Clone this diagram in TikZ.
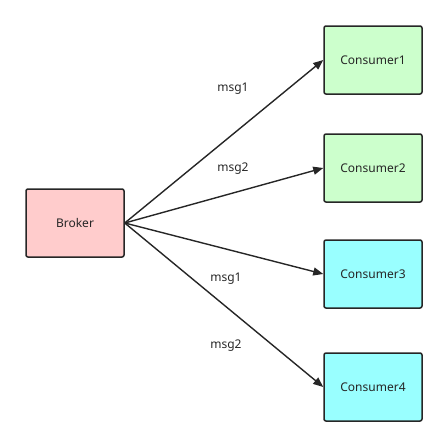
\documentclass[tikz,border=0pt]{standalone}
\usepackage{fontspec}
\setmainfont{Noto Sans}
\usepackage{tikz}
\usetikzlibrary{arrows.meta, positioning}

\begin{document}
\begin{tikzpicture}[x=1pt, y=1pt]
    \tikzstyle{box} = [rectangle, draw=black!85, line width=1.5pt, rounded corners=2pt, minimum width=98pt, minimum height=68pt, font=\fontsize{12}{14}\selectfont, text=black!85]
    \tikzstyle{link} = [-{Triangle[length=10pt, width=8pt]}, line width=1.4pt, draw=black!85]
    \tikzstyle{lbl} = [font=\fontsize{12}{14}\selectfont, text=black!85]

    \useasboundingbox (0,0) rectangle (448,-447);

    % Broker
    \node[box, fill={rgb,255:red,255;green,204;blue,204}] (broker) at (75,-223) {Broker};

    % Consumers
    \node[box, fill={rgb,255:red,204;green,255;blue,204}] (c1) at (373,-60) {Consumer1};
    \node[box, fill={rgb,255:red,204;green,255;blue,204}] (c2) at (373,-168) {Consumer2};
    \node[box, fill={rgb,255:red,153;green,255;blue,255}] (c3) at (373,-274) {Consumer3};
    \node[box, fill={rgb,255:red,153;green,255;blue,255}] (c4) at (373,-387) {Consumer4};

    % Arrows
    \draw[link] (broker.east) -- (c1.west);
    \draw[link] (broker.east) -- (c2.west);
    \draw[link] (broker.east) -- (c3.west);
    \draw[link] (broker.east) -- (c4.west);

    % Labels
    \node[lbl] (m1) at (233,-89) {msg1};
    \node[lbl] (m2) at (233,-169) {msg2};
    \node[lbl] (m3) at (226,-279) {msg1};
    \node[lbl] (m4) at (226,-346) {msg2};
\end{tikzpicture}
\end{document}
